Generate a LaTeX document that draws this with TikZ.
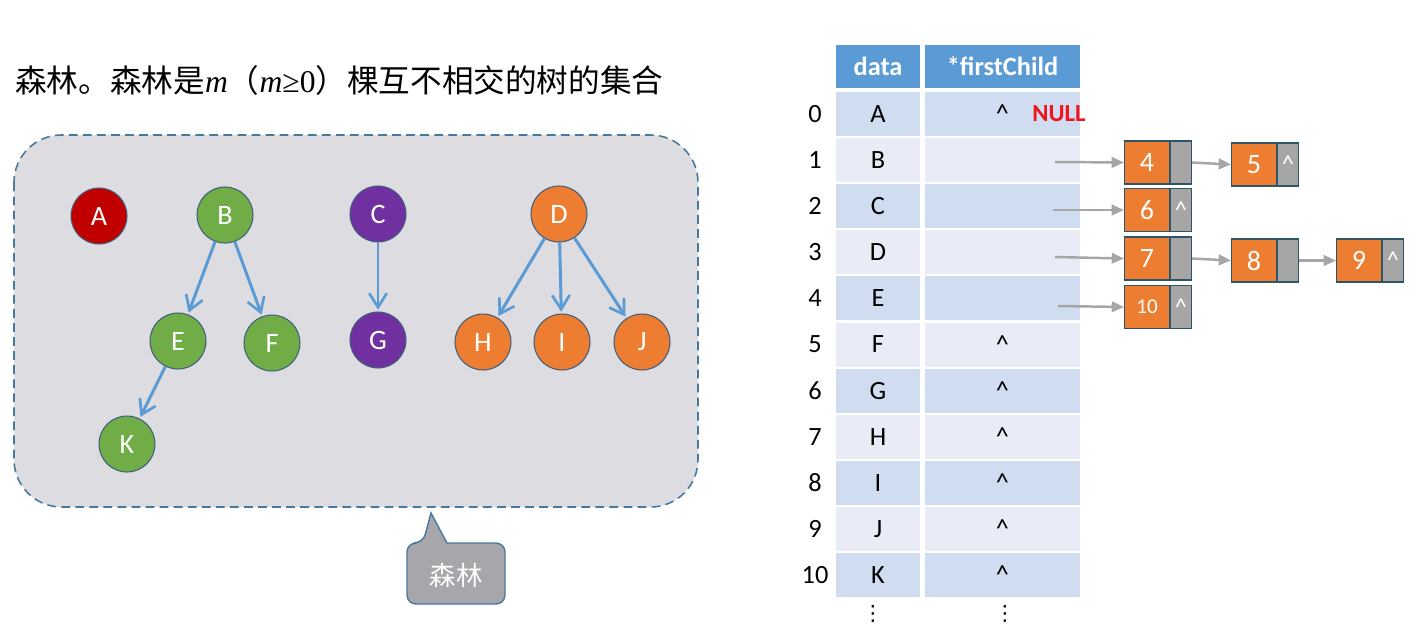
\documentclass[tikz,border=0pt]{standalone}
\usepackage{fontspec}
\setmainfont{Liberation Serif}
\newfontfamily\cjk{Noto Sans CJK SC}
\newfontfamily\calib{Carlito}
\newfontfamily\djv{DejaVu Sans}
\usetikzlibrary{arrows.meta}
\definecolor{boxgray}{RGB}{221,220,224}
\definecolor{dashblue}{RGB}{70,120,160}
\definecolor{nred}{RGB}{192,0,0}
\definecolor{ngreen}{RGB}{112,173,71}
\definecolor{npurple}{RGB}{112,48,160}
\definecolor{norange}{RGB}{237,125,49}
\definecolor{nborder}{RGB}{65,95,125}
\definecolor{edgeblue}{RGB}{91,155,213}
\definecolor{hdr}{RGB}{91,155,213}
\definecolor{rowdark}{RGB}{208,220,239}
\definecolor{rowlight}{RGB}{233,236,246}
\definecolor{callgray}{RGB}{166,166,171}
\definecolor{ptrgray}{RGB}{166,166,166}
\definecolor{lborder}{RGB}{45,85,105}
\definecolor{nullred}{RGB}{240,20,30}
\tikzset{
  x=0.02cm, y=-0.02cm,
  tnode/.style={circle, draw=nborder, line width=0.6pt, minimum size=1.12cm, inner sep=0pt,
    text=white, font=\calib\fontsize{16}{18}\selectfont},
  tedge/.style={draw=edgeblue, line width=1.7pt, -{Straight Barb[length=8pt,width=10pt,line width=1.5pt]}, shorten >=1pt},
  hcell/.style={fill=hdr, text=white, inner sep=0pt, minimum height=0.86cm, font=\calib\bfseries\fontsize{15}{17}\selectfont},
  dcell/.style={inner sep=0pt, minimum height=0.88cm, minimum width=1.68cm, font=\calib\fontsize{15}{17}\selectfont},
  fcell/.style={inner sep=0pt, minimum height=0.88cm, minimum width=3.1cm, font=\calib\fontsize{15}{17}\selectfont},
  idx/.style={font=\calib\fontsize{15}{17}\selectfont},
  obox/.style={fill=norange, draw=lborder, line width=0.6pt, minimum width=0.9cm, minimum height=0.86cm, inner sep=0pt, text=white, font=\calib\fontsize{16}{18}\selectfont},
  gbox/.style={fill=ptrgray, draw=lborder, line width=0.6pt, minimum width=0.42cm, minimum height=0.86cm, inner sep=0pt, text=white, font=\calib\fontsize{14}{16}\selectfont},
  ptr/.style={draw=ptrgray, line width=1.4pt, -{Triangle[length=7pt,width=6pt]}},
  vdot/.style={inner sep=0pt, font=\djv\fontsize{12}{14}\selectfont},
}
\begin{document}
\begin{tikzpicture}
\useasboundingbox (0,0) rectangle (1418,633);
% title
\node[anchor=west, inner sep=0pt] (title) at (15,80) {\cjk\fontsize{18}{20}\selectfont 森林。森林是{\rmfamily\itshape m}（{\rmfamily\itshape m}{\rmfamily ≥0}）棵互不相交的树的集合};
% forest box
\draw[fill=boxgray, draw=dashblue, line width=0.9pt, dash pattern=on 5pt off 3pt, rounded corners=0.95cm] (14,135) rectangle (698,507);
% callout
\draw[fill=callgray, draw=dashblue, line width=0.8pt, rounded corners=0.18cm]
  (423,543) [sharp corners]-- (431,513) -- (447,543) [rounded corners=0.18cm]-- (505,543) -- (505,604) -- (407,604) -- (407,543) -- cycle;
\node[text=white, font=\cjk\fontsize{15}{17}\selectfont] (call) at (456,575) {森林};
% trees
\node[tnode, fill=nred] (A) at (99,216) {A};
\node[tnode, fill=ngreen] (B) at (225,215) {B};
\node[tnode, fill=npurple] (C) at (378,214) {C};
\node[tnode, fill=norange] (D) at (559,214) {D};
\node[tnode, fill=ngreen] (E) at (178,341) {E};
\node[tnode, fill=ngreen] (F) at (272,343) {F};
\node[tnode, fill=npurple] (G) at (378,340) {G};
\node[tnode, fill=norange] (H) at (483,342) {H};
\node[tnode, fill=norange] (I) at (562,342) {I};
\node[tnode, fill=norange] (J) at (642,342) {J};
\node[tnode, fill=ngreen] (K) at (127,444) {K};
\draw[tedge] (B) -- (E);
\draw[tedge] (B) -- (F);
\draw[tedge] (E) -- (K);
\draw[tedge] (C) -- (G);
\draw[tedge] (D) -- (H);
\draw[tedge] (D) -- (I);
\draw[tedge] (D) -- (J);
% table header
\node[hcell, minimum width=1.68cm] (hd) at (878,66.5) {data};
\node[hcell, minimum width=3.1cm] (hf) at (1002.5,66.5) {*firstChild};
% rows
\foreach \i/\L/\F in {0/A/\textasciicircum, 1/B/, 2/C/, 3/D/, 4/E/, 5/F/\textasciicircum, 6/G/\textasciicircum, 7/H/\textasciicircum, 8/I/\textasciicircum, 9/J/\textasciicircum, 10/K/\textasciicircum}{
  \pgfmathsetmacro{\yc}{114+46.1*\i}
  \pgfmathtruncatemacro{\rp}{mod(\i,2)}
  \ifnum\rp=0 \def\rc{rowdark}\else\def\rc{rowlight}\fi
  \node[dcell, fill=\rc] (d\i) at (878,\yc) {\L};
  \node[fcell, fill=\rc] (f\i) at (1002.5,\yc) {\F};
  \node[idx] (n\i) at (815,\yc) {\i};
}
\node[vdot] (dots1) at (873,614) {⋮};
\node[vdot] (dots2) at (1005,614) {⋮};
\node[text=nullred, font=\calib\bfseries\fontsize{14}{16}\selectfont] (null) at (1059,114) {NULL};
% linked lists
\node[obox, anchor=west] (o4) at (1124,162.5) {4};
\node[gbox, anchor=west] (g4) at (o4.east) {};
\node[obox, anchor=west] (o5) at (1231,164.5) {5};
\node[gbox, anchor=west] (g5) at (o5.east) {\textasciicircum};
\node[obox, anchor=west] (o6) at (1124,210) {6};
\node[gbox, anchor=west] (g6) at (o6.east) {\textasciicircum};
\node[obox, anchor=west] (o7) at (1124,258.5) {7};
\node[gbox, anchor=west] (g7) at (o7.east) {};
\node[obox, anchor=west] (o8) at (1231,260.5) {8};
\node[gbox, anchor=west] (g8) at (o8.east) {};
\node[obox, anchor=west] (o9) at (1336,260.5) {9};
\node[gbox, anchor=west] (g9) at (o9.east) {\textasciicircum};
\node[obox, anchor=west, font=\calib\fontsize{12}{14}\selectfont] (o10) at (1124,307) {10};
\node[gbox, anchor=west] (g10) at (o10.east) {\textasciicircum};
\coordinate (p1) at (1055,162);
\coordinate (p2) at (1053,210);
\coordinate (p3) at (1055,257);
\coordinate (p4) at (1058,306);
\draw[ptr] (p1) -- (o4.west);
\draw[ptr] (p2) -- (o6.west);
\draw[ptr] (p3) -- (o7.west);
\draw[ptr] (p4) -- (o10.west);
\draw[ptr] (g4.east) -- (o5.west);
\draw[ptr] (g7.east) -- (o8.west);
\draw[ptr] (g8.east) -- (o9.west);
\end{tikzpicture}
\end{document}
